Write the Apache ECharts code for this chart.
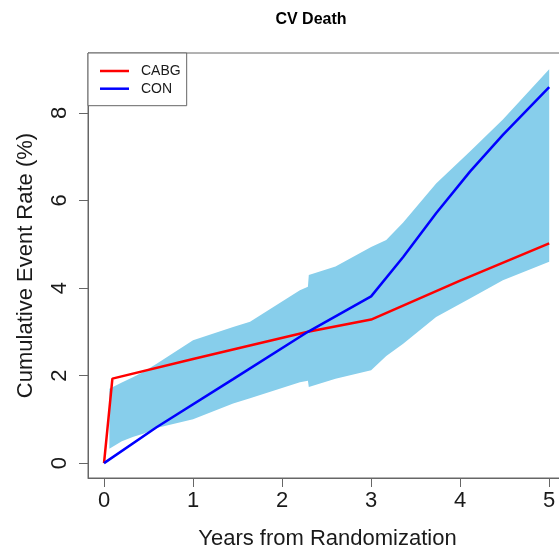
<!DOCTYPE html>
<html>
<head>
<meta charset="utf-8">
<script src="https://cdn.jsdelivr.net/npm/echarts@6/dist/echarts.min.js"></script>
<style>html,body{margin:0;padding:0;background:#fff}#c{width:559px;height:555px}</style>
</head>
<body>
<div id="c"></div>
<script>
// ---- data ----
const xTicks = [0, 1, 2, 3, 4, 5];
const yTicks = [0, 2, 4, 6, 8];

const cabgX = [0, 0.094, 1.0, 1.52, 2.29, 3.0, 4.0, 5.0];
const cabgY = [0, 1.93, 2.38, 2.63, 3.0, 3.28, 4.17, 5.02];

const conX = [0, 0.59, 1.45, 2.29, 3.0, 3.36, 3.73, 4.11, 4.48, 5.0];
const conY = [0, 0.82, 1.92, 3.0, 3.81, 4.71, 5.71, 6.66, 7.5, 8.59];

const bandX  = [0.06, 0.2, 0.33, 0.44, 0.6, 1.0, 1.45, 1.64, 2.2, 2.29, 2.30, 2.6, 3.0, 3.17, 3.36, 3.73, 4.11, 4.48, 5.0];
const bandLo = [0.33, 0.5, 0.6, 0.67, 0.81, 1.0, 1.36, 1.48, 1.85, 1.88, 1.74, 1.93, 2.12, 2.45, 2.73, 3.34, 3.76, 4.18, 4.6];
const bandHi = [1.70, 1.84, 1.97, 2.08, 2.28, 2.81, 3.11, 3.23, 3.95, 4.03, 4.30, 4.49, 4.94, 5.1, 5.5, 6.39, 7.12, 7.85, 9.0];

const FONT = 'Liberation Sans, Arial, Helvetica, sans-serif';
const TXT = '#1a1a1a';
const AX = '#666';

const zip = (a, b) => a.map((v, i) => [v, b[i]]);
const bandData = bandX.map((x, i) => [x, bandLo[i], bandHi[i]]);

const chart = echarts.init(document.getElementById('c'), null, {renderer: 'canvas'});
chart.setOption({
  animation: false,
  backgroundColor: '#fff',
  title: {
    text: 'CV Death', left: 306, top: 7, textAlign: 'center',
    textStyle: {fontFamily: FONT, fontSize: 16, fontWeight: 'bold', color: '#000'}
  },
  legend: {
    data: ['CABG', 'CON'], orient: 'vertical', left: 88, top: 53,
    backgroundColor: '#fff', borderColor: AX, borderWidth: 1,
    padding: [11, 6, 10, 12], itemWidth: 29, itemHeight: 2.5, itemGap: 3.7, icon: 'rect',
    textStyle: {fontFamily: FONT, fontSize: 14, lineHeight: 14, color: TXT, padding: [0, 0, 0, 7]}
  },
  grid: {left: 88, top: 53, width: 479, height: 425, show: true, borderColor: AX, borderWidth: 1,
         backgroundColor: 'transparent', containLabel: false, outerBoundsMode: 'none'},
  xAxis: {
    type: 'value', min: -0.18, max: 5.2,
    name: 'Years from Randomization', nameLocation: 'middle', nameGap: 50,
    nameTextStyle: {fontFamily: FONT, fontSize: 22, color: TXT},
    axisLine: {show: true, onZero: false, lineStyle: {color: AX}},
    axisTick: {show: true, customValues: xTicks, length: 9, lineStyle: {color: AX}},
    axisLabel: {customValues: xTicks, margin: 12, fontFamily: FONT, fontSize: 22, color: TXT},
    splitLine: {show: false}
  },
  yAxis: {
    type: 'value', min: -0.34, max: 9.37,
    name: 'Cumulative Event Rate (%)', nameLocation: 'middle', nameGap: 51,
    nameTextStyle: {fontFamily: FONT, fontSize: 22, color: TXT},
    axisLine: {show: true, onZero: false, lineStyle: {color: AX}},
    axisTick: {show: true, customValues: yTicks, length: 9, lineStyle: {color: AX}},
    axisLabel: {customValues: yTicks, rotate: 90, margin: 17, fontFamily: FONT, fontSize: 22, color: TXT},
    splitLine: {show: false}
  },
  series: [
    {
      type: 'custom', name: 'band', data: bandData, encode: {x: 0, y: [1, 2]}, clip: false, z: 1,
      renderItem: function (params, api) {
        if (params.dataIndex !== 0) return null;
        const pts = [];
        bandData.forEach(d => pts.push(api.coord([d[0], d[2]])));
        for (let i = bandData.length - 1; i >= 0; i--) pts.push(api.coord([bandData[i][0], bandData[i][1]]));
        return {type: 'polygon', shape: {points: pts}, style: {fill: '#87CEEB', stroke: null}};
      }
    },
    {
      type: 'line', name: 'CABG', data: zip(cabgX, cabgY), symbol: 'none', z: 3,
      lineStyle: {color: '#FF0000', width: 2.5}, itemStyle: {color: '#FF0000'}
    },
    {
      type: 'line', name: 'CON', data: zip(conX, conY), symbol: 'none', z: 3,
      lineStyle: {color: '#0000FF', width: 2.5}, itemStyle: {color: '#0000FF'}
    }
  ]
});
</script>
</body>
</html>
